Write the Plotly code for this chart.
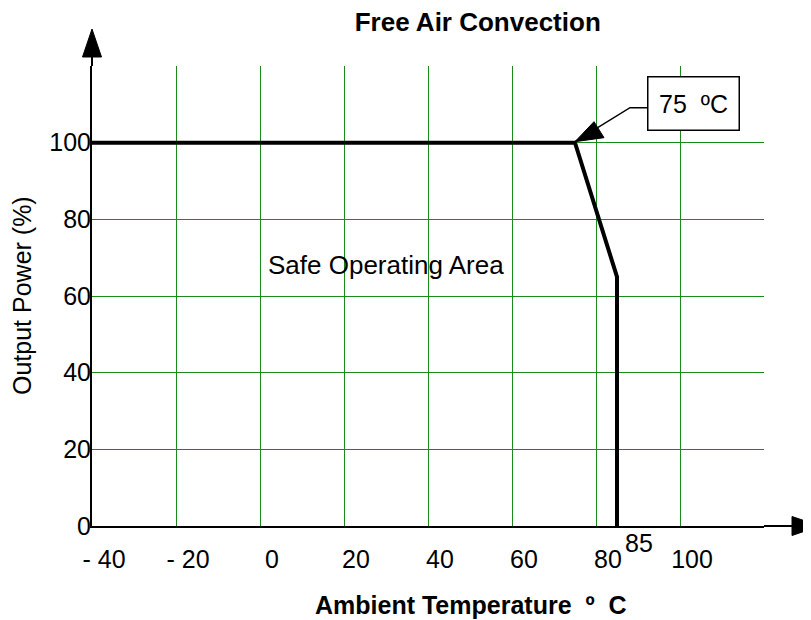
import plotly.graph_objects as go

# ---- data ----
temp_c = [-40, 75, 85, 85]          # ambient temperature (deg C)
power_pct = [100, 100, 65, 0]       # output power (%)

x_tick_vals = [-40, -20, 0, 20, 40, 60, 80, 100, 120]
x_tick_text = ["- 40", "- 20", "0", "20", "40", "60", "80", "100", ""]
y_tick_vals = [0, 20, 40, 60, 80, 100, 120]
y_tick_text = ["0", "20", "40", "60", "80", "100", ""]

title_text = "Free Air Convection"
x_title = "Ambient Temperature&nbsp; º&nbsp; C"
y_title = "Output Power (%)"
area_label = "Safe Operating Area"
area_pos = (30, 68)

FONT = "Liberation Sans, Arial, Helvetica, sans-serif"
GRID = "#1a8a1a"

# the page body has an 8px margin, so the figure is sized to fit inside
W, H = 803, 612

fig = go.Figure()
fig.add_trace(go.Scatter(
    x=temp_c, y=power_pct, mode="lines",
    line=dict(color="black", width=4),
    hoverinfo="skip", showlegend=False,
))

fig.update_layout(
    width=W, height=H,
    margin=dict(l=84, r=47, t=58, b=94),
    paper_bgcolor="white", plot_bgcolor="white",
    font=dict(family=FONT, size=25, color="black"),
    showlegend=False,
    title=dict(text="<b>" + title_text + "</b>", x=0.574, xref="paper",
               xanchor="center", y=1 - 14 / H, yanchor="middle",
               font=dict(size=26, family=FONT, color="black")),
    xaxis=dict(range=[-40, 120], tickmode="array", tickvals=x_tick_vals,
               ticktext=x_tick_text, ticks="", showgrid=True,
               gridcolor=GRID, gridwidth=1.2, zeroline=False,
               showline=True, linecolor="black", linewidth=2,
               ticklabelshift=12, ticklabelstandoff=10,
               tickfont=dict(size=25), fixedrange=True),
    yaxis=dict(range=[0, 120], tickmode="array", tickvals=y_tick_vals,
               ticktext=y_tick_text, ticks="", showgrid=True,
               gridcolor=GRID, gridwidth=1.2, zeroline=False,
               showline=True, linecolor="black", linewidth=2,
               ticklabelstandoff=-6, tickfont=dict(size=25), fixedrange=True),
)

# axis arrows (pixel-sized shapes anchored at axis ends)
fig.add_shape(type="line", xref="paper", yref="paper", xsizemode="pixel",
              ysizemode="pixel", xanchor=0, yanchor=1, x0=0, x1=0, y0=0, y1=10,
              line=dict(color="black", width=2))
fig.add_shape(type="path", xref="paper", yref="paper", xsizemode="pixel",
              ysizemode="pixel", xanchor=0, yanchor=1,
              path="M-9.5,9 L9.5,9 L0,37 Z", fillcolor="black",
              line=dict(color="black", width=1))
fig.add_shape(type="line", xref="paper", yref="paper", xsizemode="pixel",
              ysizemode="pixel", xanchor=1, yanchor=0, x0=0, x1=29, y0=0, y1=0,
              line=dict(color="black", width=2))
fig.add_shape(type="path", xref="paper", yref="paper", xsizemode="pixel",
              ysizemode="pixel", xanchor=1, yanchor=0,
              path="M28,9.5 L28,-9.5 L56,0 Z", fillcolor="black",
              line=dict(color="black", width=1))

# callout at the derating knee
kx, ky = temp_c[1], power_pct[1]
fig.add_shape(type="path", xref="x", yref="y", xsizemode="pixel",
              ysizemode="pixel", xanchor=kx, yanchor=ky,
              path="M0,1 L55,35 L72,35", line=dict(color="black", width=1.5))
fig.add_shape(type="path", xref="x", yref="y", xsizemode="pixel",
              ysizemode="pixel", xanchor=kx, yanchor=ky,
              path="M0,1 L19,21 L29,5 Z", fillcolor="black",
              line=dict(color="black", width=1))
fig.add_annotation(x=kx, y=ky, xref="x", yref="y", xshift=118.5, yshift=39,
                   text=f"{kx}&nbsp; ºC", showarrow=False,
                   font=dict(size=25), width=88, height=50, borderpad=1,
                   bordercolor="black", borderwidth=1.5, bgcolor="white")

# 85 label beside the cut-off temperature (raised above the tick row)
fig.add_annotation(x=temp_c[2], y=0, xref="x", yref="y", yshift=-17,
                   xshift=22, text=str(temp_c[2]), showarrow=False,
                   font=dict(size=25), yanchor="middle")

# area label
fig.add_annotation(x=area_pos[0], y=area_pos[1], xref="x", yref="y",
                   text=area_label, showarrow=False, font=dict(size=26))

# axis titles
fig.add_annotation(x=0.564, y=0, xref="paper", yref="paper", yshift=-79,
                   text="<b>" + x_title + "</b>", showarrow=False,
                   font=dict(size=25), yanchor="middle")
fig.add_annotation(x=0, y=0.5, xref="paper", yref="paper", xshift=-70,
                   text=y_title, textangle=-90, showarrow=False,
                   font=dict(size=25), xanchor="center", yanchor="middle")

fig.write_html("out.html")
